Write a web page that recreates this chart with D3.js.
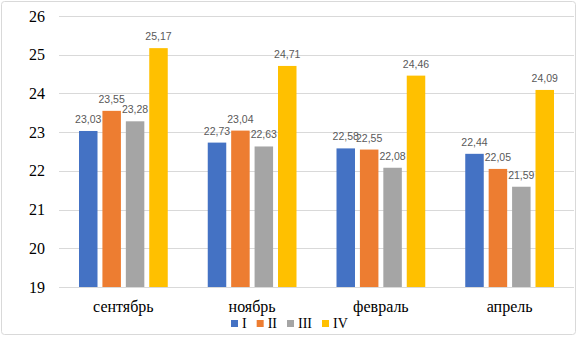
<!DOCTYPE html>
<html>
<head>
<meta charset="utf-8">
<script src="https://cdn.jsdelivr.net/npm/d3@7"></script>
<style>
  html, body { margin: 0; padding: 0; background: #fff; }
  svg { display: block; }
</style>
</head>
<body>
<div id="chart"></div>
<script>
// данные
const months = ["сентябрь", "ноябрь", "февраль", "апрель"];
const seriesNames = ["I", "II", "III", "IV"];
const seriesColors = ["#4472C4", "#ED7D31", "#A5A5A5", "#FFC000"];
const valuesI   = [23.03, 22.73, 22.58, 22.44];
const valuesII  = [23.55, 23.04, 22.55, 22.05];
const valuesIII = [23.28, 22.63, 22.08, 21.59];
const valuesIV  = [25.17, 24.71, 24.46, 24.09];
const yTicks = [19, 20, 21, 22, 23, 24, 25, 26];

const allValues = [valuesI, valuesII, valuesIII, valuesIV];

const W = 578, H = 338;
const plot = { left: 59, right: 574, top: 16, bottom: 287 };
const serif = "'Liberation Serif', 'Times New Roman', serif";

const svg = d3.select("#chart").append("svg")
  .attr("width", W)
  .attr("height", H);

// рамка
svg.append("rect")
  .attr("x", 1.5).attr("y", 1.5)
  .attr("width", 574).attr("height", 333)
  .attr("rx", 3)
  .attr("fill", "#fff")
  .attr("stroke", "#d9d9d9")
  .attr("stroke-width", 1);

const x0 = d3.scaleBand()
  .domain(months)
  .range([plot.left, plot.right])
  .padding(0);

const groupPad = 20;
const x1 = d3.scaleBand()
  .domain(seriesNames)
  .range([groupPad, x0.bandwidth() - groupPad])
  .paddingInner(0.21)
  .paddingOuter(0);

const y = d3.scaleLinear()
  .domain([19, 26])
  .range([plot.bottom, plot.top]);

// сетка
svg.append("g")
  .selectAll("line")
  .data(yTicks)
  .enter().append("line")
    .attr("x1", plot.left)
    .attr("x2", plot.right)
    .attr("y1", d => Math.round(y(d)) + 0.5)
    .attr("y2", d => Math.round(y(d)) + 0.5)
    .attr("stroke", "#d9d9d9")
    .attr("stroke-width", 1);

// ось Y
const yAxis = svg.append("g")
  .attr("transform", `translate(${plot.left - 14},0)`)
  .attr("font-family", serif)
  .call(d3.axisLeft(y).tickValues(yTicks).tickFormat(d3.format("d")).tickSize(0).tickPadding(0));
yAxis.attr("font-family", serif).attr("font-size", 16);
yAxis.select(".domain").remove();
yAxis.selectAll("text")
  .style("font-family", serif)
  .style("font-size", "16px")
  .attr("fill", "#000");

// ось X
const xAxis = svg.append("g")
  .attr("transform", `translate(0,${plot.bottom})`)
  .call(d3.axisBottom(x0).tickSize(0).tickPadding(14));
xAxis.attr("font-family", serif).attr("font-size", 16);
xAxis.select(".domain").remove();
xAxis.selectAll("text")
  .style("font-family", serif)
  .style("font-size", "16px")
  .attr("fill", "#000");

// столбцы
const rows = months.map((m, i) => ({
  month: m,
  items: seriesNames.map((s, j) => ({ series: s, value: allValues[j][i], color: seriesColors[j] }))
}));

const groups = svg.selectAll(".grp")
  .data(rows)
  .enter().append("g")
    .attr("class", "grp")
    .attr("transform", d => `translate(${x0(d.month)},0)`);

groups.selectAll("rect")
  .data(d => d.items)
  .enter().append("rect")
    .attr("x", d => x1(d.series))
    .attr("y", d => y(d.value))
    .attr("width", x1.bandwidth())
    .attr("height", d => plot.bottom - y(d.value))
    .attr("fill", d => d.color);

groups.selectAll("text")
  .data(d => d.items)
  .enter().append("text")
    .attr("x", d => x1(d.series) + x1.bandwidth() / 2)
    .attr("y", d => y(d.value) - 8)
    .attr("text-anchor", "middle")
    .attr("font-family", "'Liberation Sans', Arial, sans-serif")
    .attr("font-size", "10.5px")
    .attr("fill", "#595959")
    .text(d => d3.format(".2f")(d.value).replace(".", ","));

// легенда
const legend = svg.append("g");
const items = legend.selectAll("g")
  .data(seriesNames)
  .enter().append("g");

items.append("rect")
  .attr("width", 7).attr("height", 7)
  .attr("y", -8)
  .attr("fill", (d, i) => seriesColors[i]);

items.append("text")
  .attr("x", 11)
  .attr("y", 0)
  .style("font-family", serif)
  .style("font-size", "14px")
  .attr("fill", "#000")
  .text(d => d);

let cx = 0;
items.each(function () {
  const g = d3.select(this);
  g.attr("transform", `translate(${cx},0)`);
  const tw = g.select("text").node().getComputedTextLength();
  cx += 11 + tw + 10;
});
const legendW = cx - 10;
legend.attr("transform", `translate(${Math.round(W / 2 - legendW / 2)},328)`);
</script>
</body>
</html>
